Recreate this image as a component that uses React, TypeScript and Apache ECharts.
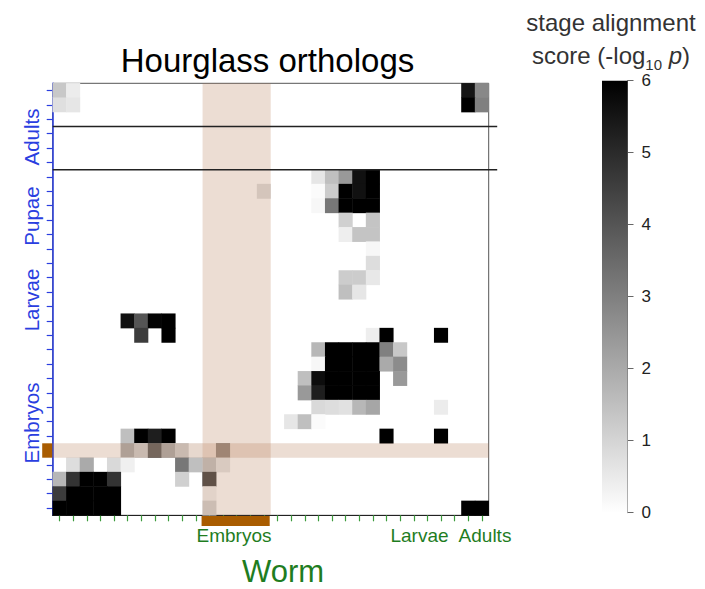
import React, { useEffect, useRef } from 'react';
import * as echarts from 'echarts';

// Worm developmental stages (columns, left → right)
const wormStages = [
  'W01', 'W02', 'W03', 'W04', 'W05', 'W06', 'W07', 'W08', 'W09', 'W10', 'W11',
  'W12', 'W13', 'W14', 'W15', 'W16', 'W17', 'W18', 'W19', 'W20', 'W21', 'W22',
  'W23', 'W24', 'W25', 'W26', 'W27', 'W28', 'W29', 'W30', 'W31', 'W32',
];
// Fly developmental stages (rows, top → bottom)
const flyStages = [
  'F01', 'F02', 'F03', 'F04', 'F05', 'F06', 'F07', 'F08', 'F09', 'F10',
  'F11', 'F12', 'F13', 'F14', 'F15', 'F16', 'F17', 'F18', 'F19', 'F20',
  'F21', 'F22', 'F23', 'F24', 'F25', 'F26', 'F27', 'F28', 'F29', 'F30',
];
const wormGroupLabels = ['Embryos', 'Larvae', 'Adults'];
const flyGroupLabels = ['Adults', 'Pupae', 'Larvae', 'Embryos'];
const scoreTicks = [0, 1, 2, 3, 4, 5, 6];

// highlighted stages (worm embryo columns and one fly embryo row)
const highlightWormStages = ['W12', 'W13', 'W14', 'W15', 'W16'];
const highlightFlyStage = 'F26';
// separators drawn above these fly stages
const separatorFlyStages = ['F04', 'F07'];

// [worm stage index, fly stage index, score (-log10 p)] — non-zero cells only
const alignmentCells: [number, number, number][] = [
  [0, 0, 1.3], [1, 0, 0.45], [30, 0, 5.5], [31, 0, 2.8],
  [0, 1, 0.75], [1, 1, 0.6], [30, 1, 6], [31, 1, 3.0],
  [19, 6, 0.6], [20, 6, 1.5], [21, 6, 2.4], [22, 6, 5.6], [23, 6, 6],
  [15, 7, 0.75], [19, 7, 0.1], [20, 7, 1.2], [21, 7, 6], [22, 7, 5.6], [23, 7, 6],
  [19, 8, 0.2], [20, 8, 3.2], [21, 8, 6], [22, 8, 6], [23, 8, 6],
  [21, 9, 1.1], [23, 9, 1.4],
  [21, 10, 0.4], [22, 10, 1.4], [23, 10, 1.4],
  [23, 11, 0.2],
  [23, 12, 0.8],
  [21, 13, 1.2], [22, 13, 1.2], [23, 13, 0.55],
  [21, 14, 1.5], [22, 14, 0.6],
  [5, 16, 5.6], [6, 16, 4.0], [7, 16, 5.9], [8, 16, 6],
  [6, 17, 4.6], [8, 17, 6], [23, 17, 0.4], [24, 17, 6], [28, 17, 6],
  [19, 18, 1.7], [20, 18, 6], [21, 18, 6], [22, 18, 6], [23, 18, 6], [24, 18, 3.0], [25, 18, 1.3],
  [19, 19, 0.2], [20, 19, 6], [21, 19, 6], [22, 19, 6], [23, 19, 6], [24, 19, 2.0], [25, 19, 2.7],
  [18, 20, 1.5], [19, 20, 5.7], [20, 20, 6], [21, 20, 6], [22, 20, 6], [23, 20, 6], [25, 20, 2.4],
  [18, 21, 2.4], [19, 21, 5.3], [20, 21, 6], [21, 21, 6], [22, 21, 6], [23, 21, 6],
  [19, 22, 0.9], [20, 22, 0.8], [21, 22, 0.7], [22, 22, 1.7], [23, 22, 2.1], [28, 22, 0.45],
  [17, 23, 0.6], [18, 23, 1.5], [19, 23, 0.1],
  [5, 24, 1.5], [6, 24, 6], [7, 24, 5.3], [8, 24, 6], [24, 24, 6], [28, 24, 6],
  [5, 25, 1.9], [6, 25, 1.1], [7, 25, 3.7], [8, 25, 1.9], [9, 25, 1.1], [10, 25, 0.15], [12, 25, 2.6],
  [1, 26, 0.8], [2, 26, 2.0], [4, 26, 0.9], [5, 26, 0.35], [9, 26, 3.2], [10, 26, 1.5], [11, 26, 1.4], [12, 26, 0.6],
  [0, 27, 1.7], [1, 27, 4.8], [2, 27, 6], [3, 27, 6], [4, 27, 4.8], [9, 27, 1.1], [11, 27, 4.4],
  [0, 28, 4.6], [1, 28, 6], [2, 28, 6], [3, 28, 6], [4, 28, 6], [11, 28, 0.3],
  [0, 29, 6], [1, 29, 6], [2, 29, 6], [3, 29, 6], [4, 29, 6], [11, 29, 1.0], [30, 29, 6], [31, 29, 6],
];

const FONT = '"Liberation Sans", Arial, Helvetica, sans-serif';
const BLUE = '#2a3ee0';
const GREEN = '#1f7d1f';
const TICK_GREEN = '#3c9c3c';
const BROWN = '#a95c00';
const BAND = 'rgba(179,119,79,0.25)';

export default function App() {
  const ref = useRef<HTMLDivElement>(null);

  useEffect(() => {
    const chart = echarts.init(ref.current!, null, { renderer: 'svg' });
    chart.setOption({
      animation: false,
      backgroundColor: '#ffffff',
      grid: [
        { left: 52.7, top: 83.3, width: 436, height: 432, show: true, borderColor: '#555', borderWidth: 1 },
        { left: 602, top: 80.7, width: 25.5, height: 432 },
      ],
      xAxis: [
        {
          type: 'category', gridIndex: 0, data: wormStages, position: 'bottom',
          axisLine: { show: true, lineStyle: { color: '#222', width: 1.2 } },
          axisTick: { show: true, alignWithLabel: true, interval: 0, length: 6, lineStyle: { color: TICK_GREEN, width: 1.2 } },
          axisLabel: { show: false }, splitLine: { show: false },
        },
        { type: 'category', gridIndex: 1, data: ['score'], show: false },
      ],
      yAxis: [
        {
          type: 'category', gridIndex: 0, data: flyStages, inverse: true,
          axisLine: { show: true, lineStyle: { color: BLUE, width: 1.5 } },
          axisTick: { show: true, alignWithLabel: true, interval: 0, length: 6, lineStyle: { color: BLUE, width: 1.2 } },
          axisLabel: { show: false }, splitLine: { show: false },
        },
        {
          type: 'value', gridIndex: 1, min: scoreTicks[0], max: scoreTicks[scoreTicks.length - 1], interval: 1,
          position: 'right',
          axisLine: { show: true, lineStyle: { color: '#666', width: 1 } },
          axisTick: { show: true, length: 6, lineStyle: { color: '#666' } },
          axisLabel: { show: true, margin: 14, fontSize: 17, color: '#222', fontFamily: FONT },
          splitLine: { show: false },
        },
      ],
      visualMap: {
        type: 'continuous', min: 0, max: 6, show: false, seriesIndex: 0,
        inRange: { color: ['#ffffff', '#000000'] },
      },
      series: [
        {
          type: 'heatmap', xAxisIndex: 0, yAxisIndex: 0, data: alignmentCells,
          itemStyle: { borderWidth: 0 }, emphasis: { disabled: true },
        },
        {
          type: 'bar', xAxisIndex: 1, yAxisIndex: 1, data: [scoreTicks[scoreTicks.length - 1]], barWidth: '100%',
          itemStyle: {
            color: new echarts.graphic.LinearGradient(0, 0, 0, 1, [
              { offset: 0, color: '#000000' },
              { offset: 1, color: '#ffffff' },
            ]),
          },
          emphasis: { disabled: true },
        },
      ],
    });

    const toPx = (c: number | string, r: number | string) =>
      chart.convertToPixel({ gridIndex: 0 }, [c, r]) as number[];
    const p0 = toPx(0, 0);
    const p1 = toPx(1, 1);
    const cw = p1[0] - p0[0];
    const rh = p1[1] - p0[1];
    const gLeft = p0[0] - cw / 2;
    const gTop = p0[1] - rh / 2;
    const gRight = toPx(wormStages.length - 1, 0)[0] + cw / 2;
    const gBottom = toPx(0, flyStages.length - 1)[1] + rh / 2;
    const hx0 = toPx(highlightWormStages[0], 0)[0] - cw / 2;
    const hx1 = toPx(highlightWormStages[highlightWormStages.length - 1], 0)[0] + cw / 2;
    const hy = toPx(0, highlightFlyStage)[1] - rh / 2;

    const graphics: any[] = [
      { type: 'rect', z: 50, silent: true, shape: { x: hx0, y: gTop, width: hx1 - hx0, height: gBottom - gTop }, style: { fill: BAND } },
      { type: 'rect', z: 50, silent: true, shape: { x: gLeft, y: hy, width: gRight - gLeft, height: rh }, style: { fill: BAND } },
      { type: 'rect', z: 60, silent: true, shape: { x: gLeft - 10.5, y: hy, width: 10, height: rh }, style: { fill: BROWN } },
      { type: 'rect', z: 60, silent: true, shape: { x: hx0 - 1, y: gBottom + 0.6, width: hx1 - hx0, height: 10 }, style: { fill: BROWN } },
    ];
    separatorFlyStages.forEach((s) => {
      const y = toPx(0, s)[1] - rh / 2;
      graphics.push({
        type: 'line', z: 60, silent: true,
        shape: { x1: gLeft, y1: y, x2: gRight + 8.5, y2: y },
        style: { stroke: '#222', lineWidth: 1.4 },
      });
    });

    const flyLabelPos = [137, 216, 300, 423];
    flyGroupLabels.forEach((t, i) => {
      graphics.push({
        type: 'text', z: 70, x: 31, y: flyLabelPos[i], rotation: Math.PI / 2,
        style: { text: t, fontSize: 20.5, fontFamily: FONT, fill: BLUE, align: 'center', verticalAlign: 'middle' },
      });
    });
    const wormLabelPos = [234, 419.5, 485];
    wormGroupLabels.forEach((t, i) => {
      graphics.push({
        type: 'text', z: 70, x: wormLabelPos[i], y: 535,
        style: { text: t, fontSize: 19, fontFamily: FONT, fill: GREEN, align: 'center', verticalAlign: 'middle' },
      });
    });
    graphics.push(
      {
        type: 'text', z: 70, x: 283, y: 571,
        style: { text: 'Worm', fontSize: 31, fontFamily: FONT, fill: GREEN, align: 'center', verticalAlign: 'middle' },
      },
      {
        type: 'text', z: 70, x: 267.5, y: 60,
        style: { text: 'Hourglass orthologs', fontSize: 33, fontFamily: FONT, fill: '#000', align: 'center', verticalAlign: 'middle' },
      },
      {
        type: 'text', z: 70, x: 611, y: 6,
        style: {
          text: '{a|stage alignment}\n{a|score (-log}{s|10}{a| }{p|p}{a|)}',
          fontSize: 24, fontFamily: FONT, fill: '#333', align: 'center', verticalAlign: 'top',
          rich: {
            a: { fontSize: 24, lineHeight: 33, fontFamily: FONT, fill: '#333' },
            s: { fontSize: 15, lineHeight: 14, fontFamily: FONT, fill: '#333', verticalAlign: 'bottom' },
            p: { fontSize: 24, lineHeight: 33, fontFamily: FONT, fill: '#333', fontStyle: 'italic' },
          },
        },
      },
    );

    chart.setOption({ graphic: graphics });

    return () => chart.dispose();
  }, []);

  return (
    <div
      ref={ref}
      style={{ position: 'fixed', left: 0, top: 0, width: 705, height: 589, background: '#fff' }}
    />
  );
}
